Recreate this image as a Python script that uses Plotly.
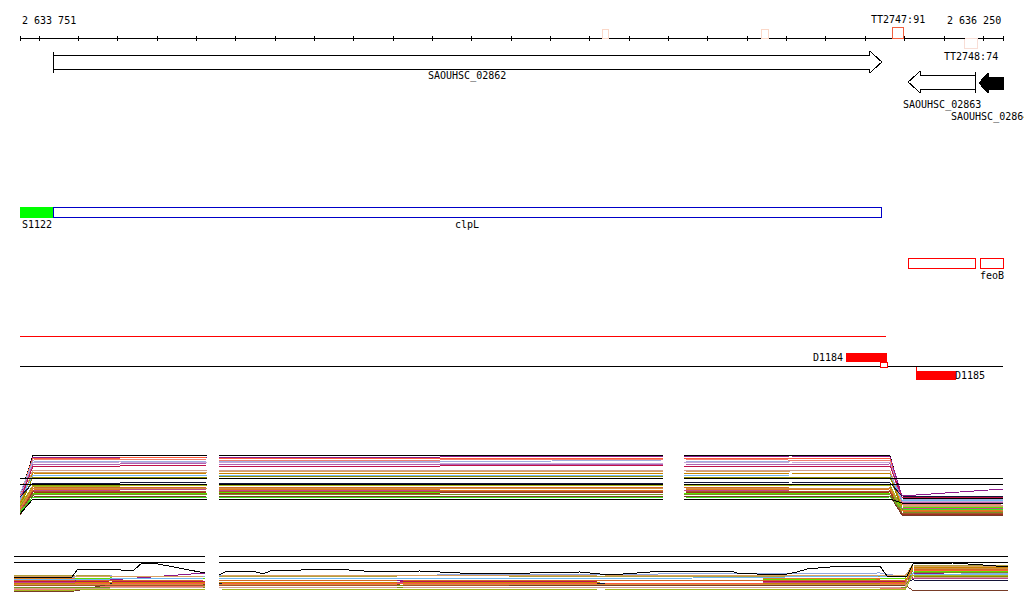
import plotly.graph_objects as go

# ------------------------------------------------------------------ data
REGION_START = 2633751
REGION_END = 2636250
TICK_STEP = 100
START_LABEL = "2 633 751"
END_LABEL = "2 636 250"

GENE_NAMES = ["SAOUHSC_02862", "SAOUHSC_02863", "SAOUHSC_02864"]
GENE_STARTS = [2633835, 2636009, 2636189]
GENE_ENDS = [2635942, 2636181, 2636250]
GENE_STRANDS = ["+", "-", "-"]
GENE_FILLED = [False, False, True]

TERM_NAMES = ["", "", "TT2747:91", "TT2748:74"]
TERM_STARTS = [2635231, 2635637, 2635968, 2636153]
TERM_ENDS = [2635246, 2635655, 2635998, 2636184]
TERM_STRANDS = ["+", "+", "+", "-"]
TERM_COLORS = ["#fbd8c8", "#fbd8c8", "#f2603f", "#f8ded6"]

FEAT_NAMES = ["S1122", "clpL"]
FEAT_STARTS = [2633751, 2633835]
FEAT_ENDS = [2633835, 2635940]
FEAT_FILL = ["#00ff00", "#ffffff"]
FEAT_LINE = ["#00ff00", "#0000c8"]

FEO_NAMES = ["", "feoB"]
FEO_STARTS = [2636009, 2636192]
FEO_ENDS = [2636181, 2636250]

TRANSCRIPT_START = 2633751
TRANSCRIPT_END = 2635953
BOUND_NAMES = ["D1184", "D1185"]
BOUND_STARTS = [2635853, 2636029]
BOUND_ENDS = [2635953, 2636128]

# expression block 1 (probe nodes, bp) -- gaps marked by None
X1 = [2633751, 2633784, 2634005, 2634226, None, 2634257, 2634819, 2635386,
      None, 2635439, 2635709, 2635963, 2635993, 2636250]
B1_COLORS = ["#000000", "#8b1a8b", "#ff5a3c", "#f08070", "#a0aee0", "#c8a8d8",
             "#b060b0", "#c0104a", "#d0a090", "#d8a060", "#c88400", "#70b8f0",
             "#8c8c00", "#141438", "#8ca000", "#a8b820", "#d26a28", "#d09040",
             "#c04888", "#e07820", "#a85030", "#58e000", "#a03020", "#789020",
             "#783c28", "#40e020", "#000000"]
B1_VALUES = [
    [23, 65, 65, 64, 64, 65, 65, 65, 65, 64, 22, 21],
    [24, 63, 63, 62, 63, 63, 64, 63, 64, 63, 24, 31],
    [25, 62, 62, 63, 62, 61, 62, 62, 62, 61, 17, 18],
    [20, 61, 60, 61, 60, 60, 61, 61, 60, 59, 15, 16],
    [26, 59, 58, 59, 59, 58, 60, 59, 58, 58, 21, 20],
    [22, 57, 58, 57, 58, 57, 57, 57, 58, 57, 19, 19],
    [21, 56, 56, 57, 56, 55, 56, 56, 55, 56, 18, 17],
    [19, 54, 54, 55, 54, 54, 55, 54, 54, 54, 23, 23],
    [17, 50, 50, 49, 49, 50, 49, 50, 50, 49, 15, 14],
    [18, 48, 48, 48, 48, 49, 48, 49, 48, 48, 14, 13],
    [16, 47, 46, 47, 47, 46, 47, 46, 47, 46, 13, 12],
    [20, 45, 45, 44, 45, 45, 44, 44, 45, 45, 20, 20],
    [14, 43, 43, 43, 43, 44, 43, 43, 43, 43, 11, 11],
    [23, 37, 37, 38, 37, 37, 36, 37, 38, 37, 24, 23],
    [13, 35, 35, 34, 35, 34, 35, 35, 34, 35, 10, 10],
    [15, 34, 34, 35, 34, 35, 34, 34, 35, 34, 12, 11],
    [12, 33, 32, 33, 33, 32, 33, 32, 33, 33, 9, 8],
    [11, 32, 32, 31, 32, 32, 31, 32, 31, 32, 10, 9],
    [10, 30, 30, 31, 30, 30, 30, 29, 30, 30, 12, 12],
    [9, 31, 30, 30, 31, 30, 30, 31, 30, 31, 9, 10],
    [8, 29, 28, 29, 29, 28, 29, 29, 28, 29, 7, 7],
    [7, 27, 27, 27, 27, 28, 27, 27, 27, 27, 13, 12],
    [6, 28, 27, 28, 27, 27, 28, 28, 27, 28, 6, 6],
    [7, 26, 26, 25, 26, 26, 25, 26, 26, 25, 8, 7],
    [5, 24, 23, 24, 24, 23, 24, 24, 24, 24, 5, 5],
    [8, 23, 23, 22, 23, 23, 23, 23, 22, 23, 11, 10],
    [6, 21, 21, 21, 21, 21, 21, 21, 21, 21, 17, 17],
]
B1_REF_LEVELS = [42, 36]

# expression block 2
X2 = [2633736, 2633891, 2633980, 2634221, None, 2634257, 2634717, 2635226,
      2635937, 2636001, 2636019, 2636263]
B2_COLORS = ["#b0a040", "#e08020", "#90a8e0", "#c01050", "#8b1a8b", "#60e000",
             "#141438", "#ff5a3c", "#8c8c00", "#d26a28", "#a85030", "#f08070",
             "#783c28", "#789020", "#c04888", "#d8a060", "#70b8f0", "#d09040",
             "#d0a090", "#a8b820", "#c88400"]
B2_VALUES = [
    [25, 25, 24, 24, 23, 24, 24, 23, 23, 35, 34],
    [22, 22, 22, 21, 22, 21, 22, 22, 21, 33, 32],
    [23, 23, 24, 23, 24, 25, 26, 27, 23, 28, 26],
    [18, 19, 19, 18, 18, 18, 19, 19, 18, 26, 25],
    [19, 20, 20, 27, 20, 20, 19, 20, 19, 27, 24],
    [21, 21, 22, 21, 21, 22, 21, 21, 22, 29, 28],
    [17, 17, 16, 17, 16, 17, 16, 17, 17, 20, 19],
    [16, 16, 17, 16, 17, 16, 17, 16, 16, 30, 29],
    [14, 15, 15, 14, 15, 14, 15, 14, 14, 24, 23],
    [20, 20, 19, 20, 19, 20, 19, 20, 19, 31, 30],
    [15, 14, 14, 15, 14, 15, 14, 15, 15, 22, 21],
    [11, 11, 14, 14, 13, 13, 13, 12, 12, 25, 24],
    [8, 9, 16, 16, 16, 15, 15, 15, 15, 10, 10],
    [13, 13, 13, 12, 13, 12, 13, 12, 12, 28, 27],
    [17, 18, 18, 17, 18, 17, 18, 18, 17, 22, 22],
    [24, 24, 23, 24, 25, 24, 25, 24, 24, 34, 33],
    [21, 21, 21, 22, 22, 22, 21, 24, 23, 26, 25],
    [16, 15, 15, 16, 15, 16, 15, 16, 15, 32, 31],
    [12, 12, 12, 13, 12, 13, 12, 13, 13, 23, 22],
    [10, 10, 11, 11, 11, 10, 11, 10, 10, 25, 25],
    [17, 17, 18, 18, 17, 18, 17, 17, 18, 33, 32],
]
B2_BLACK_X = [2633736, 2633883, 2633898, 2633975, 2634038, 2634061, 2634089,
              2634115, 2634158, 2634201, 2634221, None,
              2634257, 2634277, 2634343, 2634369, 2634387, 2634455, 2634547,
              2634666, 2634768, 2634920, 2635048, 2635175, 2635251, 2635353,
              2635421, 2635556, 2635574, 2635625, 2635701, 2635726, 2635752,
              2635810, 2635861, 2635937, 2635955, 2636006, 2636021, 2636123,
              2636199, 2636263]
B2_BLACK_Y = [23, 23, 31, 31, 29, 37, 37, 35, 32, 29, 27, None,
              25, 29, 29, 26, 29, 30, 31, 28, 29, 26, 27, 28, 25, 28,
              29, 29, 27, 26, 26, 28, 31, 33, 34, 34, 24, 24, 36, 37,
              35, 33]
B2_REF_LEVELS = [44, 38]

# ------------------------------------------------------------------ layout helpers
W, H = 1024, 611
PX_L, PX_R = 20, 1003          # pixel span of the region on the page
PX_PER_BP = (PX_R - PX_L) / (REGION_END - REGION_START)
ML, MR = 14, 16
X_RANGE = [REGION_START - (PX_L - ML) / PX_PER_BP,
           REGION_END + ((W - MR) - PX_R) / PX_PER_BP]
FONT = dict(family="DejaVu Sans Mono", size=10, color="#000000")

fig = go.Figure()
annots = []


def add_line(xs, ys, color, yaxis="y", width=1):
    fig.add_trace(go.Scatter(x=xs, y=ys, mode="lines", yaxis=yaxis,
                             line=dict(color=color, width=width),
                             hoverinfo="skip", showlegend=False,
                             connectgaps=False))


def add_poly(xs, ys, fill, line, yaxis="y"):
    fig.add_trace(go.Scatter(x=xs + [xs[0]], y=ys + [ys[0]], mode="lines",
                             fill="toself", fillcolor=fill, yaxis=yaxis,
                             line=dict(color=line, width=1),
                             hoverinfo="skip", showlegend=False))


def add_box(x0, x1, y0, y1, fill, line):
    add_poly([x0, x1, x1, x0], [y0, y0, y1, y1], fill, line)


def label(x, y, text, anchor="center"):
    annots.append(dict(x=x, y=y, xref="x", yref="y", text=text,
                       showarrow=False, xanchor=anchor, yanchor="middle",
                       font=FONT))


def bp(px):
    return px / PX_PER_BP


# ------------------------------------------------------------------ ruler
RULER_Y = 38
ticks = [REGION_START] + list(range((REGION_START // TICK_STEP + 1) * TICK_STEP,
                                    REGION_END, TICK_STEP)) + [REGION_END]
add_line([REGION_START, REGION_END], [RULER_Y, RULER_Y], "#000000")
tx, ty = [], []
for t in ticks:
    tx += [t, t, None]
    ty += [RULER_Y - 2.5, RULER_Y + 3, None]
add_line(tx, ty, "#000000")
label(REGION_START, 20, START_LABEL, "left")
label(REGION_END, 20, END_LABEL, "right")

for n, s, e, st, c in zip(TERM_NAMES, TERM_STARTS, TERM_ENDS, TERM_STRANDS,
                          TERM_COLORS):
    big = bool(n)
    if st == "+":
        y0, y1 = (27, RULER_Y) if big else (29, RULER_Y)
        ly = 19
    else:
        y0, y1 = RULER_Y + 0.5, RULER_Y + 10
        ly = 56
    add_box(s, e, y0, y1, "rgba(255,255,255,0)", c)
    if n:
        label((s + e) / 2, ly, n)

# ------------------------------------------------------------------ genes
GENE_Y = [62, 82, 83]
GENE_LABEL_Y = [76, 105, 117]
for name, s, e, st, filled, cy, ly in zip(GENE_NAMES, GENE_STARTS, GENE_ENDS,
                                          GENE_STRANDS, GENE_FILLED, GENE_Y,
                                          GENE_LABEL_Y):
    hb, hh = (6, 10) if filled else (7, 11)
    head = bp(9 if filled else 12)
    if st == "+":
        xs = [s, e - head, e - head, e, e - head, e - head, s]
        bar = s
    else:
        xs = [e, s + head, s + head, s, s + head, s + head, e]
        bar = e
    ys = [cy - hb, cy - hb, cy - hh, cy, cy + hh, cy + hb, cy + hb]
    add_poly(xs, ys, "#000000" if filled else "#ffffff", "#000000")
    if not filled:
        add_line([bar, bar], [cy - 10.5, cy + 10.5], "#000000")
    if filled:
        label(s + bp(-30), ly, name, "left")
    else:
        label((s + e) / 2, ly, name)

# ------------------------------------------------------------------ features
for n, s, e, f, l in zip(FEAT_NAMES, FEAT_STARTS, FEAT_ENDS, FEAT_FILL, FEAT_LINE):
    add_box(s, e, 207.5, 217.5, f, l)
label(FEAT_STARTS[0], 224, FEAT_NAMES[0], "left")
label((FEAT_STARTS[1] + FEAT_ENDS[1]) / 2, 224, FEAT_NAMES[1])

for n, s, e in zip(FEO_NAMES, FEO_STARTS, FEO_ENDS):
    add_box(s, e, 258.5, 268.5, "#ffffff", "#ff0000")
    if n:
        label((s + e) / 2, 275, n)

# ------------------------------------------------------------------ transcripts
add_line([TRANSCRIPT_START, TRANSCRIPT_END], [336.5, 336.5], "#ff0000")
add_line([REGION_START, REGION_END], [366.5, 366.5], "#000000")
add_box(BOUND_STARTS[0], BOUND_ENDS[0], 353, 361.5, "#ff0000", "#ff0000")
add_box(BOUND_ENDS[0] - bp(6), BOUND_ENDS[0] + bp(1), 362.5, 367, "#ffffff", "#ff0000")
label(BOUND_STARTS[0] - bp(2), 357, BOUND_NAMES[0], "right")
add_box(BOUND_STARTS[1], BOUND_ENDS[1], 371, 379.5, "#ff0000", "#ff0000")
add_line([BOUND_STARTS[1], BOUND_STARTS[1]], [366.5, 371], "#ff0000")
label(BOUND_ENDS[1] - bp(2), 375, BOUND_NAMES[1], "left")


# ------------------------------------------------------------------ expression
def with_gaps(vals, xnodes):
    out, i = [], 0
    for x in xnodes:
        if x is None:
            out.append(None)
        else:
            out.append(vals[i])
            i += 1
    return out


for c, v in zip(B1_COLORS, B1_VALUES):
    add_line(X1, with_gaps(v, X1), c, "y2")
for lvl in B1_REF_LEVELS:
    add_line(X1, [None if x is None else lvl for x in X1], "#000000", "y2")

for c, v in zip(B2_COLORS, B2_VALUES):
    add_line(X2, with_gaps(v, X2), c, "y3")
add_line(B2_BLACK_X, B2_BLACK_Y, "#000000", "y3")
for lvl in B2_REF_LEVELS:
    add_line(X2, [None if x is None else lvl for x in X2], "#000000", "y3")

# ------------------------------------------------------------------ layout
fig.update_layout(
    width=W, height=H,
    margin=dict(l=ML, r=MR, t=0, b=0, pad=0),
    paper_bgcolor="#ffffff", plot_bgcolor="#ffffff",
    showlegend=False,
    annotations=annots,
    xaxis=dict(range=X_RANGE, visible=False, fixedrange=True),
    yaxis=dict(domain=[1 - 440 / H, 1], range=[440, 0], visible=False,
               fixedrange=True),
    yaxis2=dict(domain=[1 - 520 / H, 1 - 445 / H], range=[0, 75],
                visible=False, anchor="x", fixedrange=True),
    yaxis3=dict(domain=[1 - 600 / H, 1 - 545 / H], range=[0, 55],
                visible=False, anchor="x", fixedrange=True),
)

POST = (
    "document.body.style.margin='0px';"
    "document.body.style.overflow='hidden';"
    "var st=document.createElement('style');"
    "st.textContent='.scatterlayer path{shape-rendering:crispEdges}';"
    "document.head.appendChild(st);"
)
fig.write_html("out.html", config={"displayModeBar": False,
                                   "staticPlot": True},
               post_script=POST)
